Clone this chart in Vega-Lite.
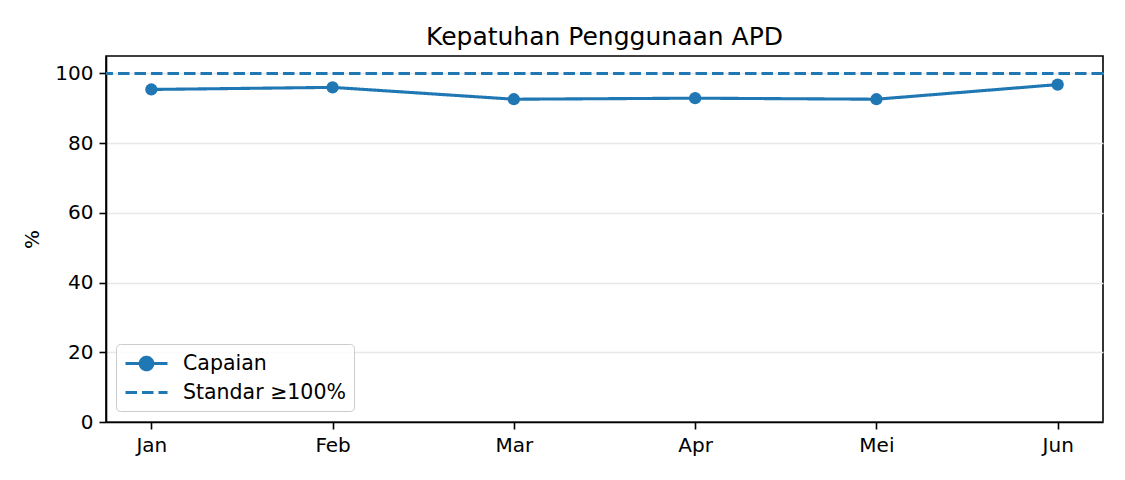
{
  "$schema": "https://vega.github.io/schema/vega-lite/v6.json",
  "width": 997,
  "height": 366,
  "autosize": "none",
  "padding": {"left": 106, "top": 56, "right": 22, "bottom": 58},
  "title": {
    "text": "Kepatuhan Penggunaan APD",
    "font": "DejaVu Sans",
    "fontSize": 25,
    "fontWeight": "normal",
    "color": "#000000",
    "offset": 6
  },
  "datasets": {
    "capaian": [
      {"bulan": "Jan", "nilai": 95.4, "seri": "Capaian"},
      {"bulan": "Feb", "nilai": 96.0, "seri": "Capaian"},
      {"bulan": "Mar", "nilai": 92.6, "seri": "Capaian"},
      {"bulan": "Apr", "nilai": 92.9, "seri": "Capaian"},
      {"bulan": "Mei", "nilai": 92.6, "seri": "Capaian"},
      {"bulan": "Jun", "nilai": 96.8, "seri": "Capaian"}
    ],
    "standar": [
      {"nilai": 100, "seri": "Standar ≥100%"}
    ]
  },
  "layer": [
    {
      "data": {"name": "capaian"},
      "mark": {"type": "line", "color": "#1f77b4", "strokeWidth": 3.1},
      "encoding": {
        "x": {
          "field": "bulan",
          "type": "ordinal",
          "sort": null,
          "scale": {"type": "point", "padding": 0.25},
          "axis": {"title": null, "labelAngle": 0}
        },
        "y": {
          "field": "nilai",
          "type": "quantitative",
          "scale": {"domain": [0, 105], "nice": false},
          "axis": {"title": "%", "values": [0, 20, 40, 60, 80, 100], "grid": true}
        },
        "strokeDash": {
          "field": "seri",
          "type": "nominal",
          "scale": {
            "domain": ["Capaian", "Standar ≥100%"],
            "range": [[1, 0], [11.5, 5]]
          },
          "legend": {
            "title": null,
            "orient": "none",
            "legendX": 10,
            "legendY": 288,
            "fillColor": "rgba(255,255,255,0.8)",
            "strokeColor": "#cccccc",
            "cornerRadius": 4,
            "padding": 8,
            "labelFont": "DejaVu Sans",
            "labelFontSize": 20.5,
            "labelLimit": 400,
            "labelColor": "#000000",
            "labelOffset": 36,
            "rowPadding": 5,
            "symbolSize": 400,
            "symbolType": "stroke",
            "symbolStrokeColor": "#1f77b4",
            "symbolStrokeWidth": 3,
            "encode": {
              "symbols": {
                "update": {
                  "shape": {"signal": "datum.value === 'Capaian' ? 'M-1,0L3.2,0M1.73,0A0.63,0.63,0,1,1,0.47,0A0.63,0.63,0,1,1,1.73,0Z' : 'M-1,0L3.2,0'"},
                  "fill": {"signal": "datum.value === 'Capaian' ? '#1f77b4' : 'transparent'"},
                  "stroke": {"value": "#1f77b4"},
                  "strokeWidth": {"value": 3}
                }
              }
            }
          }
        }
      }
    },
    {
      "data": {"name": "capaian"},
      "mark": {"type": "point", "filled": true, "size": 150, "color": "#1f77b4", "opacity": 1},
      "encoding": {
        "x": {"field": "bulan", "type": "ordinal", "sort": null},
        "y": {"field": "nilai", "type": "quantitative"}
      }
    },
    {
      "data": {"name": "standar"},
      "mark": {"type": "rule", "color": "#1f77b4", "strokeWidth": 3.1},
      "encoding": {
        "y": {"field": "nilai", "type": "quantitative"},
        "strokeDash": {"field": "seri", "type": "nominal"}
      }
    }
  ],
  "config": {
    "font": "DejaVu Sans",
    "view": {"stroke": "#000000", "strokeWidth": 1.6},
    "axis": {
      "domainColor": "#000000",
      "domainWidth": 1.6,
      "tickColor": "#000000",
      "tickWidth": 1.6,
      "tickSize": 7,
      "labelFont": "DejaVu Sans",
      "labelFontSize": 20,
      "labelColor": "#000000",
      "labelPadding": 6,
      "titleFont": "DejaVu Sans",
      "titleFontSize": 20,
      "titleFontWeight": "normal",
      "titleColor": "#000000",
      "titlePadding": 12,
      "gridColor": "#e8e8e8",
      "gridWidth": 1.4
    },
    "axisX": {"grid": false}
  }
}
